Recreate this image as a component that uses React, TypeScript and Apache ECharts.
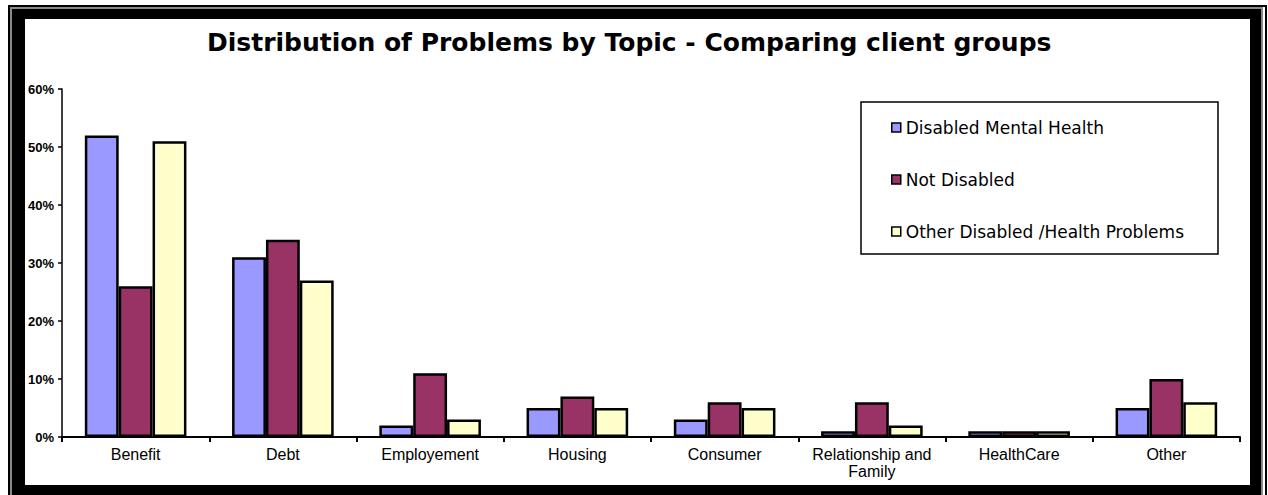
import React, { useEffect, useRef } from "react";
import * as echarts from "echarts";

// Problem topics on the category axis
const topics = [
  "Benefit",
  "Debt",
  "Employement",
  "Housing",
  "Consumer",
  "Relationship and\nFamily",
  "HealthCare",
  "Other",
];

// Client groups
const groupNames = [
  "Disabled Mental Health",
  "Not Disabled",
  "Other Disabled /Health Problems",
];

// Share of problems per topic, in percent
const disabledMentalHealth = [52, 31, 2, 5, 3, 1, 1, 5];
const notDisabled = [26, 34, 11, 7, 6, 6, 1, 10];
const otherDisabledHealth = [51, 27, 3, 5, 5, 2, 1, 6];

const groupColors = ["#9999FF", "#993366", "#FFFFCC"];

const FONT = "'Liberation Sans', Arial, sans-serif";
const WIDE = "'DejaVu Sans', Verdana, sans-serif";
const NARROW = "'Liberation Sans Narrow', 'Arial Narrow', sans-serif";

export default function App() {
  const ref = useRef<HTMLDivElement>(null);

  useEffect(() => {
    if (!ref.current) return;
    const chart = echarts.init(ref.current, undefined, { renderer: "svg" });

    const seriesValues = [disabledMentalHealth, notDisabled, otherDisabledHealth];

    // Picture frame: thin black line, thin grey line, then a thick black band
    const frame = [
      { type: "rect", shape: { x: 9, y: 6, width: 1257, height: 520 }, style: { fill: "none", stroke: "#000", lineWidth: 2 } },
      { type: "rect", shape: { x: 11, y: 8, width: 1251, height: 520 }, style: { fill: "none", stroke: "#8a8a8a", lineWidth: 2 } },
      { type: "rect", shape: { x: 12, y: 9, width: 13, height: 500 }, style: { fill: "#000" } },
      { type: "rect", shape: { x: 12, y: 9, width: 1249, height: 10 }, style: { fill: "#000" } },
      { type: "rect", shape: { x: 1250, y: 9, width: 11, height: 500 }, style: { fill: "#000" } },
      { type: "rect", shape: { x: 12, y: 485, width: 1249, height: 20 }, style: { fill: "#000" } },
    ];

    chart.setOption({
      animation: false,
      backgroundColor: "#fff",
      title: {
        text: "Distribution of Problems by Topic - Comparing client groups",
        left: 202,
        top: 25,
        textStyle: { fontFamily: WIDE, fontSize: 25, fontWeight: "bold", color: "#000" },
      },
      graphic: [
        ...frame,
        {
          type: "rect",
          shape: { x: 861, y: 102, width: 357, height: 152 },
          style: { fill: "#fff", stroke: "#000", lineWidth: 1.5 },
          z: 0,
        },
      ],
      legend: {
        orient: "vertical",
        left: 886,
        top: 114,
        itemGap: 35,
        itemWidth: 9,
        itemHeight: 9,
        icon: "rect",
        itemStyle: { borderColor: "#000", borderWidth: 1.5 },
        textStyle: { fontFamily: WIDE, fontSize: 17, color: "#000" },
        data: groupNames,
        z: 5,
      },
      grid: { left: 62, right: 28, top: 89, bottom: 58 },
      xAxis: {
        type: "category",
        data: topics,
        axisLine: { lineStyle: { color: "#000", width: 2 } },
        axisTick: { show: true, length: 5, lineStyle: { color: "#000", width: 2 } },
        axisLabel: {
          interval: 0,
          margin: 9,
          color: "#000",
          fontFamily: NARROW,
          fontSize: 16,
          lineHeight: 17,
        },
      },
      yAxis: {
        type: "value",
        min: 0,
        max: 60,
        interval: 10,
        splitLine: { show: false },
        axisLine: { show: true, lineStyle: { color: "#000", width: 1.5 } },
        axisTick: { show: true, length: 4, lineStyle: { color: "#000", width: 1.5 } },
        axisLabel: {
          formatter: "{value}%",
          margin: 8,
          color: "#000",
          fontFamily: FONT,
          fontSize: 13,
          fontWeight: "bold",
        },
      },
      series: groupNames.map((name, i) => ({
        name,
        type: "bar",
        data: seriesValues[i],
        barGap: "0%",
        barCategoryGap: "31%",
        itemStyle: { color: groupColors[i], borderColor: "#000", borderWidth: 2.5 },
      })),
    });

    return () => chart.dispose();
  }, []);

  return (
    <div
      ref={ref}
      style={{ position: "fixed", left: 0, top: 0, width: 1268, height: 495 }}
    />
  );
}
